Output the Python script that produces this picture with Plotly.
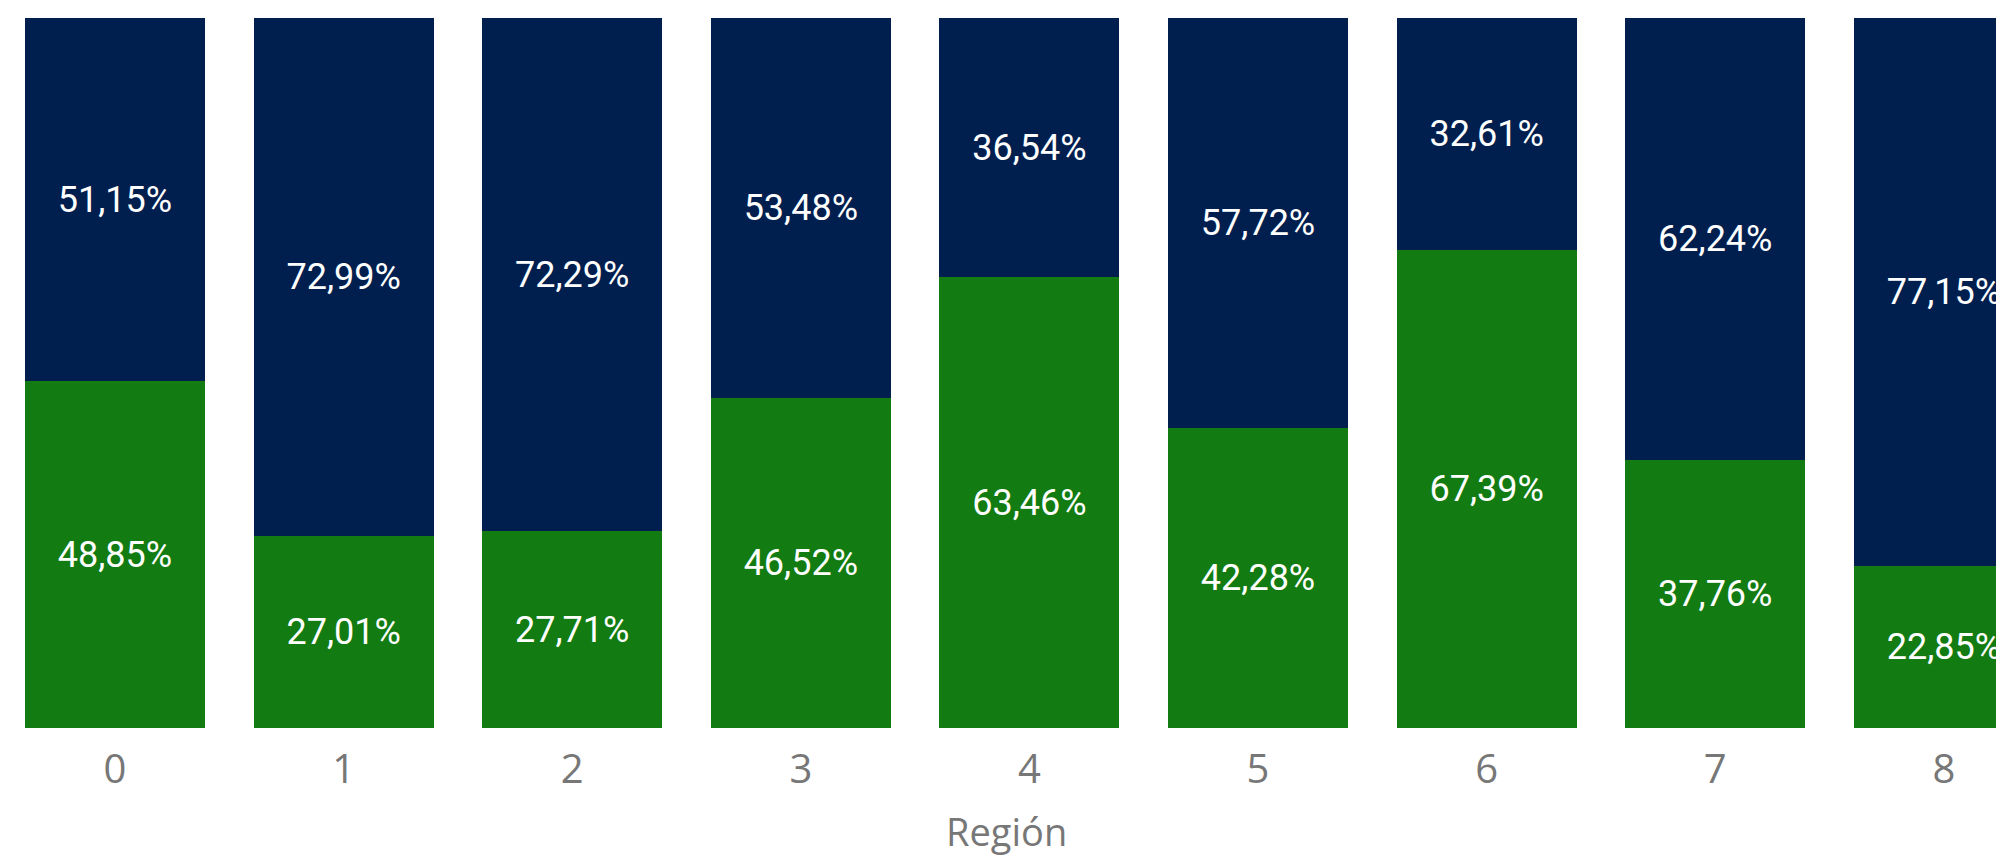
import plotly.graph_objects as go

regions = [0, 1, 2, 3, 4, 5, 6, 7, 8]
green_vals = [48.85, 27.01, 27.71, 46.52, 63.46, 42.28, 67.39, 37.76, 22.85]
navy_vals = [51.15, 72.99, 72.29, 53.48, 36.54, 57.72, 32.61, 62.24, 77.15]
tick_labels = ["0", "1", "2", "3", "4", "5", "6", "7", "8"]
x_title = "Región"

GREEN = "#127b11"
NAVY = "#001f4f"

def fmt(v):
    return f"{v:.2f}".replace(".", ",") + "%"

fig = go.Figure()
for vals, col in ((green_vals, GREEN), (navy_vals, NAVY)):
    fig.add_trace(go.Bar(
        x=regions, y=vals, marker=dict(color=col, line=dict(width=0)),
        text=[fmt(v) for v in vals], textposition="inside",
        insidetextanchor="middle", textangle=0,
        textfont=dict(family="Roboto", size=36, color="white"),
        hoverinfo="skip", showlegend=False,
    ))

fig.update_layout(
    barmode="stack",
    bargap=0.213,
    width=1996, height=849,
    margin=dict(l=0, r=0, t=10, b=129),
    plot_bgcolor="white", paper_bgcolor="white",
    xaxis=dict(
        range=[-0.468, 8.263],
        automargin=False,
        tickmode="array", tickvals=regions, ticktext=tick_labels,
        showgrid=False, zeroline=False, showline=False, ticks="",
        tickfont=dict(family="Open Sans", size=40, color="#777777"),
        ticklabelstandoff=14,
    ),
    yaxis=dict(
        range=[0, 100], visible=False, showgrid=False, zeroline=False,
    ),
    annotations=[dict(
        text=x_title, xref="paper", yref="paper", x=0.5, y=-0.145,
        xanchor="center", yanchor="middle", showarrow=False,
        font=dict(family="Open Sans", size=38, color="#777777"),
    )],
)

fig.write_html("out.html")
